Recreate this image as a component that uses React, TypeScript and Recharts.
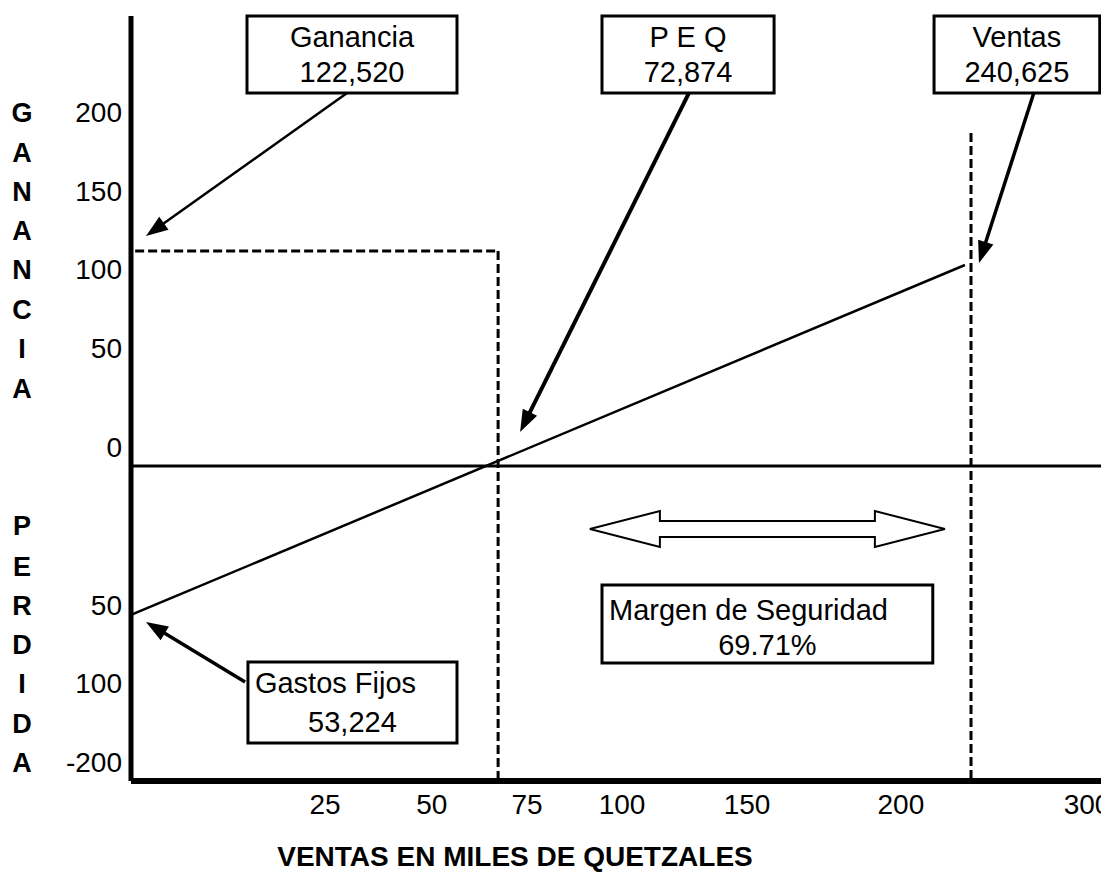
import React from 'react';
import {
  ComposedChart,
  Line,
  XAxis,
  YAxis,
  ReferenceLine,
  ReferenceArea,
  ReferenceDot,
} from 'recharts';

// ---- data (schematic chart units) ----
const X_TICK_POS = [60.9, 94.4, 124.3, 154.1, 193.3, 241.6, 300];
const X_TICK_LABELS = ['25', '50', '75', '100', '150', '200', '300'];
const Y_TICK_POS = [236, 183.3, 131.3, 78.7, 12.7, -92.7, -144.7, -197.3];
const Y_TICK_LABELS = ['200', '150', '100', '50', '0', '50', '100', '-200'];
const AXIS_LETTERS = ['G', 'A', 'N', 'A', 'N', 'C', 'I', 'A', 'P', 'E', 'R', 'D', 'I', 'D', 'A'];
const AXIS_LETTER_POS = [236, 209.3, 183.3, 157.3, 131.3, 104.7, 78.7, 52, -39.3, -66.7, -92.7, -118.7, -144.7, -171.3, -197.3];
const PROFIT_X = [0, 261.7];
const PROFIT_Y = [-99.3, 134];
const PEQ_X = 115.2;
const PEQ_LEVEL = 143.3;
const SALES_X = 263.6;
const SALES_TOP = 222;
const X_DOMAIN: [number, number] = [0, 306.9];
const Y_DOMAIN: [number, number] = [-210, 300];

const PROFIT_DATA = PROFIT_X.map((x, i) => ({ x, y: PROFIT_Y[i] }));

// ---- annotations ----
const BOXES = [
  { x1: 36.4, x2: 102.3, y1: 248.7, y2: 300, lines: ['Ganancia', '122,520'], align: ['middle', 'middle'], centers: [21, 56] },
  { x1: 147.8, x2: 201.8, y1: 248.7, y2: 300, lines: ['P E Q', '72,874'], align: ['middle', 'middle'], centers: [21, 56] },
  { x1: 252, x2: 304, y1: 248.7, y2: 300, lines: ['Ventas', '240,625'], align: ['middle', 'middle'], centers: [21, 56] },
  { x1: 147.8, x2: 251.6, y1: -131.3, y2: -79.3, lines: ['Margen de Seguridad', '69.71%'], align: ['start', 'middle'], centers: [25, 60] },
  { x1: 36.7, x2: 102.3, y1: -184.7, y2: -130.7, lines: ['Gastos Fijos', '53,224'], align: ['start', 'middle'], centers: [21, 60] },
];

const ARROWS = [
  { from: { x: 67.8, y: 248.7 }, to: { x: 4.7, y: 153.3 }, w: 2.5 },
  { from: { x: 175.1, y: 248.7 }, to: { x: 122.1, y: 22.7 }, w: 4 },
  { from: { x: 283.3, y: 248.7 }, to: { x: 266.1, y: 135.3 }, w: 3.5 },
  { from: { x: 35.8, y: -144 }, to: { x: 4.7, y: -104 }, w: 3.5 },
];

const MARGIN_ARROW = { from: { x: 144, y: -42 }, to: { x: 255.4, y: -42 } };

const FONT = '"Liberation Sans", Arial, Helvetica, sans-serif';

const XTick = (props: any) => {
  const idx = X_TICK_POS.indexOf(props.payload.value);
  return (
    <text x={props.x} y={props.y + 33} textAnchor="middle" fontSize={28} fontFamily={FONT} fill="#000">
      {X_TICK_LABELS[idx]}
    </text>
  );
};

const YTick = (props: any) => {
  const idx = Y_TICK_POS.indexOf(props.payload.value);
  return (
    <text x={props.x} y={props.y + 10} textAnchor="end" fontSize={28} fontFamily={FONT} fill="#000">
      {Y_TICK_LABELS[idx]}
    </text>
  );
};

const arrowShape = (w: number) => (p: any) => {
  const x1 = Number(p.x1), y1 = Number(p.y1), x2 = Number(p.x2), y2 = Number(p.y2);
  const dx = x2 - x1, dy = y2 - y1;
  const len = Math.hypot(dx, dy) || 1;
  const ux = dx / len, uy = dy / len;
  const L = 22, W = 8;
  const bx = x2 - ux * L, by = y2 - uy * L;
  return (
    <g>
      <line x1={x1} y1={y1} x2={bx + ux * 3} y2={by + uy * 3} stroke="#000" strokeWidth={w} />
      <polygon
        points={`${x2},${y2} ${bx - uy * W},${by + ux * W} ${bx + uy * W},${by - ux * W}`}
        fill="#000"
      />
    </g>
  );
};

const doubleArrowShape = (p: any) => {
  const x1 = Number(p.x1), y = Number(p.y1), x2 = Number(p.x2);
  const H = 70, HH = 18, SH = 8;
  const pts = [
    [x1, y], [x1 + H, y - HH], [x1 + H, y - SH], [x2 - H, y - SH], [x2 - H, y - HH],
    [x2, y], [x2 - H, y + HH], [x2 - H, y + SH], [x1 + H, y + SH], [x1 + H, y + HH],
  ].map((q) => q.join(',')).join(' ');
  return <polygon points={pts} fill="#fff" stroke="#000" strokeWidth={2} />;
};

const boxLabel = (lines: string[], align: string[], centers: number[]) => (props: any) => {
  const { x, y, width } = props.viewBox;
  return (
    <g>
      {lines.map((t, i) => (
        <text
          key={i}
          x={align[i] === 'start' ? x + 7 : x + width / 2}
          y={y + centers[i] + 10.4}
          textAnchor={align[i]}
          fontSize={29}
          fontFamily={FONT}
          fill="#000"
          style={{ whiteSpace: 'pre' }}
        >
          {t}
        </text>
      ))}
    </g>
  );
};

const letterShape = (ch: string) => (p: any) => (
  <text x={p.cx - 109} y={p.cy + 9.7} textAnchor="middle" fontSize={27} fontWeight="bold" fontFamily={FONT} fill="#000">
    {ch}
  </text>
);

const titleContent = (props: any) => {
  const vb = props.viewBox || { x: 123, y: 773 };
  return (
    <text x={vb.x + 384} y={vb.y + 85} textAnchor="middle" fontSize={28} fontWeight="bold" fontFamily={FONT} fill="#000">
      VENTAS EN MILES DE QUETZALES
    </text>
  );
};

export default function App() {
  return (
    <div style={{ width: 1101, height: 884, background: '#fff' }}>
      <ComposedChart width={1101} height={884} margin={{ top: 8, right: 0, bottom: 0, left: 0 }}>
        <XAxis
          type="number"
          dataKey="x"
          domain={X_DOMAIN}
          allowDataOverflow
          ticks={X_TICK_POS}
          interval={0}
          tick={<XTick />}
          tickLine={false}
          tickSize={0}
          tickMargin={0}
          height={111}
          axisLine={{ stroke: '#000', strokeWidth: 6 }}
          label={{ content: titleContent }}
        />
        <YAxis
          type="number"
          domain={Y_DOMAIN}
          allowDataOverflow
          ticks={Y_TICK_POS}
          interval={0}
          tick={<YTick />}
          tickLine={false}
          tickSize={0}
          tickMargin={9}
          width={123}
          axisLine={{ stroke: '#000', strokeWidth: 5 }}
        />

        <ReferenceLine y={0} stroke="#000" strokeWidth={3} />

        <ReferenceLine
          segment={[{ x: 1.3, y: PEQ_LEVEL }, { x: PEQ_X, y: PEQ_LEVEL }]}
          stroke="#000"
          strokeWidth={3}
          strokeDasharray="9 4"
        />
        <ReferenceLine
          segment={[{ x: PEQ_X, y: PEQ_LEVEL }, { x: PEQ_X, y: Y_DOMAIN[0] }]}
          stroke="#000"
          strokeWidth={3}
          strokeDasharray="9 4"
        />
        <ReferenceLine
          segment={[{ x: SALES_X, y: SALES_TOP }, { x: SALES_X, y: Y_DOMAIN[0] }]}
          stroke="#000"
          strokeWidth={3}
          strokeDasharray="9 4"
        />

        <Line
          data={PROFIT_DATA}
          dataKey="y"
          type="linear"
          stroke="#000"
          strokeWidth={2.5}
          dot={false}
          activeDot={false}
          isAnimationActive={false}
        />

        {BOXES.map((b, i) => (
          <ReferenceArea
            key={'box' + i}
            x1={b.x1}
            x2={b.x2}
            y1={b.y1}
            y2={b.y2}
            fill="#fff"
            fillOpacity={1}
            stroke="#000"
            strokeWidth={3}
            ifOverflow="visible"
            label={boxLabel(b.lines, b.align, b.centers)}
          />
        ))}

        {ARROWS.map((a, i) => (
          <ReferenceLine key={'arr' + i} segment={[a.from, a.to]} shape={arrowShape(a.w)} ifOverflow="visible" />
        ))}

        <ReferenceLine segment={[MARGIN_ARROW.from, MARGIN_ARROW.to]} shape={doubleArrowShape} />

        {AXIS_LETTERS.map((ch, i) => (
          <ReferenceDot
            key={'l' + i}
            x={0}
            y={AXIS_LETTER_POS[i]}
            r={0}
            ifOverflow="visible"
            shape={letterShape(ch)}
          />
        ))}
      </ComposedChart>
    </div>
  );
}
